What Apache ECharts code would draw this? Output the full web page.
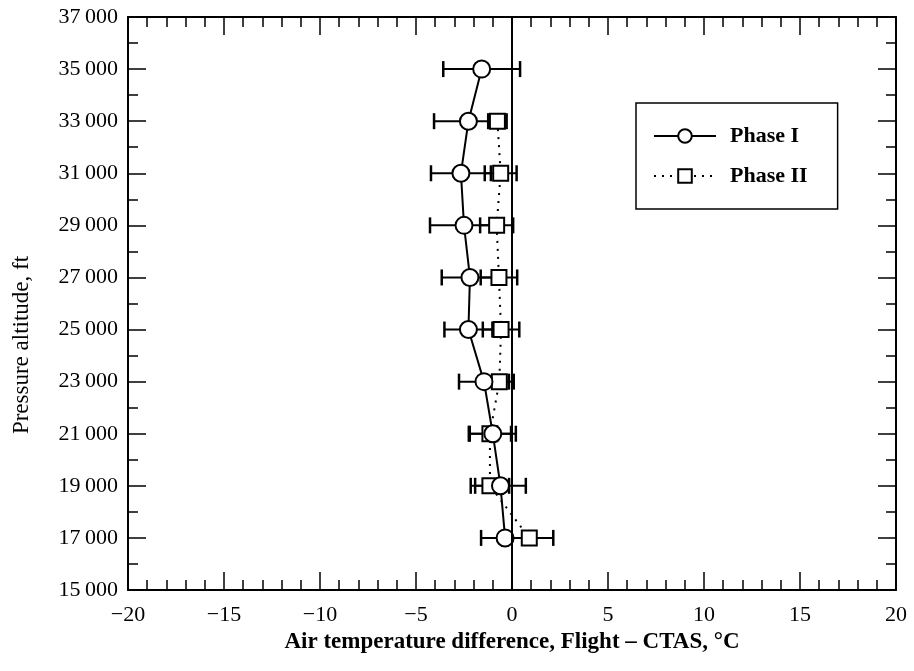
<!DOCTYPE html>
<html>
<head>
<meta charset="utf-8">
<script src="https://cdn.jsdelivr.net/npm/echarts@6/dist/echarts.min.js"></script>
<style>
html,body{margin:0;padding:0;background:#fff;}
#chart{width:914px;height:671px;}
</style>
</head>
<body>
<div id="chart"></div>
<script>
// ---- data ----
const altitudes = [35000, 33000, 31000, 29000, 27000, 25000, 23000, 21000, 19000, 17000];
const phase1Temp = [-1.58, -2.27, -2.66, -2.5, -2.19, -2.27, -1.46, -1.0, -0.6, -0.36];
const phase1Err  = [2.0, 1.79, 1.56, 1.77, 1.47, 1.25, 1.3, 1.2, 1.32, 1.25];
const phase2Alt  = [33000, 31000, 29000, 27000, 25000, 23000, 21000, 19000, 17000];
const phase2Temp = [-0.76, -0.59, -0.8, -0.68, -0.57, -0.66, -1.15, -1.15, 0.9];
const phase2Err  = [0.48, 0.83, 0.86, 0.95, 0.95, 0.75, 1.1, 1.0, 1.25];
const seriesNames = ['Phase I', 'Phase II'];
const xTickValues = [-20, -15, -10, -5, 0, 5, 10, 15, 20];
const xTickLabels = ['\u221220', '\u221215', '\u221210', '\u22125', '0', '5', '10', '15', '20'];
const yTickValues = [15000, 17000, 19000, 21000, 23000, 25000, 27000, 29000, 31000, 33000, 35000, 37000];
const yTickLabels = ['15\u2009000', '17\u2009000', '19\u2009000', '21\u2009000', '23\u2009000', '25\u2009000',
                     '27\u2009000', '29\u2009000', '31\u2009000', '33\u2009000', '35\u2009000', '37\u2009000'];
const xTitle = 'Air temperature difference, Flight \u2013 CTAS, \u00B0C';
const yTitle = 'Pressure altitude, ft';

const FONT = '"Liberation Serif", "DejaVu Serif", serif';

function labelFor(values, labels) {
  return function (v) {
    const i = values.indexOf(v);
    return i >= 0 ? labels[i] : '';
  };
}

function renderErr(params, api) {
  const x = api.value(0), y = api.value(1), e = api.value(2);
  const p1 = api.coord([x - e, y]);
  const p2 = api.coord([x + e, y]);
  const h = 8;
  return {
    type: 'group',
    children: [
      { type: 'line', shape: { x1: p1[0], y1: p1[1], x2: p2[0], y2: p2[1] }, style: { stroke: '#000', lineWidth: 2 } },
      { type: 'line', shape: { x1: p1[0], y1: p1[1] - h, x2: p1[0], y2: p1[1] + h }, style: { stroke: '#000', lineWidth: 2.5 } },
      { type: 'line', shape: { x1: p2[0], y1: p2[1] - h, x2: p2[0], y2: p2[1] + h }, style: { stroke: '#000', lineWidth: 2.5 } }
    ]
  };
}

const axisCommon = {
  axisLine: { show: true, onZero: false, lineStyle: { color: '#000', width: 2 } },
  axisTick: { show: true, inside: true, length: 18, lineStyle: { color: '#000', width: 1.5 } },
  minorTick: { show: true, length: 10, lineStyle: { color: '#000', width: 1.5 } },
  splitLine: { show: false },
  minorSplitLine: { show: false }
};

const chart = echarts.init(document.getElementById('chart'), null, { renderer: 'canvas' });
chart.setOption({
  animation: false,
  backgroundColor: '#fff',
  grid: { left: 128, right: 18, top: 17, bottom: 81, containLabel: false },
  xAxis: [
    Object.assign({}, axisCommon, {
      type: 'value', min: -20, max: 20, interval: 5, position: 'bottom',
      minorTick: Object.assign({}, axisCommon.minorTick, { splitNumber: 5 }),
      axisLabel: { show: true, margin: 14, color: '#000', fontFamily: FONT, fontSize: 22, formatter: labelFor(xTickValues, xTickLabels) },
      name: xTitle, nameLocation: 'middle', nameGap: 40,
      nameTextStyle: { color: '#000', fontFamily: FONT, fontSize: 23, fontWeight: 'bold' }
    }),
    Object.assign({}, axisCommon, {
      type: 'value', min: -20, max: 20, interval: 5, position: 'top',
      minorTick: Object.assign({}, axisCommon.minorTick, { splitNumber: 5 }),
      axisLabel: { show: false }
    })
  ],
  yAxis: [
    Object.assign({}, axisCommon, {
      type: 'value', min: 15000, max: 37000, interval: 2000, position: 'left',
      minorTick: Object.assign({}, axisCommon.minorTick, { splitNumber: 2 }),
      axisLabel: { show: true, margin: 10, color: '#000', fontFamily: FONT, fontSize: 22, formatter: labelFor(yTickValues, yTickLabels) }
    }),
    Object.assign({}, axisCommon, {
      type: 'value', min: 15000, max: 37000, interval: 2000, position: 'right',
      minorTick: Object.assign({}, axisCommon.minorTick, { splitNumber: 2 }),
      axisLabel: { show: false }
    })
  ],
  graphic: [{
    type: 'text', x: 22, y: 345, rotation: Math.PI / 2,
    style: { text: yTitle, fill: '#000', font: '23px ' + FONT, align: 'center', verticalAlign: 'middle' }
  }],
  legend: {
    orient: 'vertical', left: 636, top: 103,
    data: seriesNames,
    padding: [22, 30, 22, 17],
    itemGap: 18, itemWidth: 62, itemHeight: 17,
    borderColor: '#000', borderWidth: 1.5, borderRadius: 0,
    backgroundColor: '#fff',
    textStyle: { color: '#000', fontFamily: FONT, fontSize: 22, fontWeight: 'bold', padding: [0, 0, 0, 9] }
  },
  series: [
    {
      type: 'custom', name: 'err1', renderItem: renderErr, z: 2,
      encode: { x: 0, y: 1 },
      data: altitudes.map((a, i) => [phase1Temp[i], a, phase1Err[i]])
    },
    {
      type: 'custom', name: 'err2', renderItem: renderErr, z: 2,
      encode: { x: 0, y: 1 },
      data: phase2Alt.map((a, i) => [phase2Temp[i], a, phase2Err[i]])
    },
    {
      type: 'line', name: seriesNames[1], z: 3,
      data: phase2Alt.map((a, i) => [phase2Temp[i], a]),
      symbol: 'rect', symbolSize: 15,
      lineStyle: { color: '#000', width: 2, type: [2, 6] },
      itemStyle: { color: '#fff', borderColor: '#000', borderWidth: 2 }
    },
    {
      type: 'line', name: seriesNames[0], z: 4,
      data: altitudes.map((a, i) => [phase1Temp[i], a]),
      symbol: 'circle', symbolSize: 17,
      lineStyle: { color: '#000', width: 2, type: 'solid' },
      itemStyle: { color: '#fff', borderColor: '#000', borderWidth: 2 },
      markLine: {
        silent: true, symbol: ['none', 'none'], label: { show: false },
        lineStyle: { color: '#000', width: 2, type: 'solid' },
        data: [{ xAxis: 0 }]
      }
    }
  ]
});
</script>
</body>
</html>
